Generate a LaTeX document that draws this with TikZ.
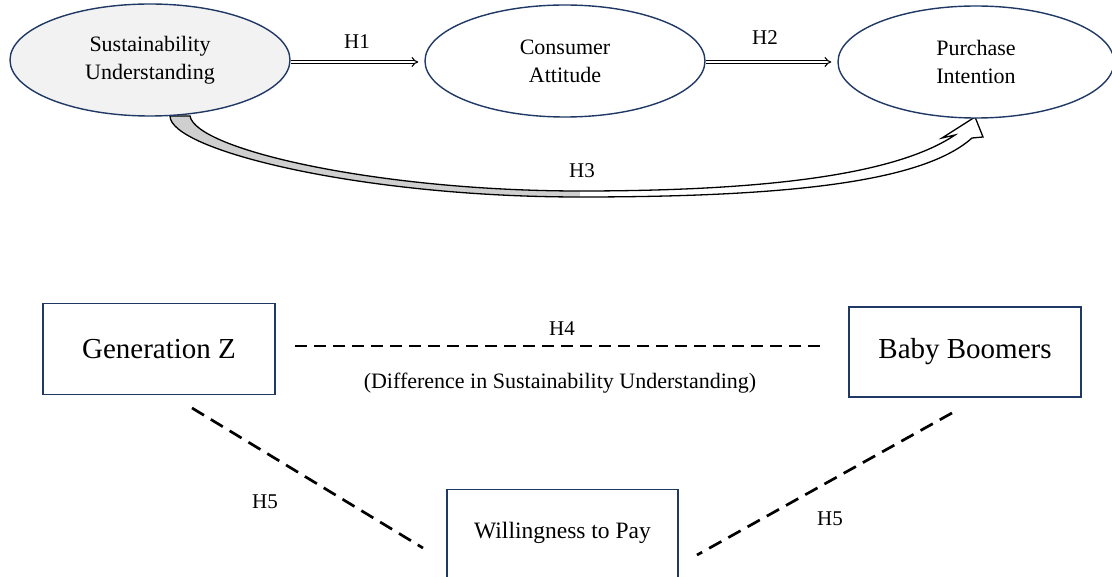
\documentclass[tikz,border=0pt]{standalone}
\usepackage{fontspec}
\setmainfont{Liberation Serif}
\usetikzlibrary{shapes.geometric,arrows.meta}
\definecolor{navy}{HTML}{1F3864}
\definecolor{lightfill}{HTML}{F2F2F2}
\definecolor{bandgray}{HTML}{CFCFCF}
\tikzset{
  construct/.style={ellipse, draw=navy, line width=1.4pt, minimum width=280pt,
    minimum height=112pt, inner sep=0pt, align=center,
    font=\fontsize{22}{28}\selectfont},
  groupbox/.style={rectangle, draw=navy, line width=1.4pt, inner sep=0pt,
    minimum width=232pt, minimum height=91pt, font=\fontsize{29}{34}\selectfont},
  hyplabel/.style={font=\fontsize{21}{24}\selectfont, inner sep=0pt},
  dblarrow/.style={double=white, double distance=2.2pt, line width=1.1pt,
    -{Implies}, shorten >=6pt},
  dashline/.style={line width=2.7pt, dash pattern=on 12pt off 7pt},
  diagdash/.style={line width=2.7pt, dash pattern=on 14pt off 8pt},
}
\begin{document}
\begin{tikzpicture}[x=1pt, y=-1pt]
\useasboundingbox (0,0) rectangle (1112,577);

% curved block arrow H3 (drawn first so the ellipse border sits over its base)
\fill[bandgray] (170,116) .. controls (170,150) and (360,197) .. (580,197)
  -- (580,191) .. controls (380,191) and (196,150) .. (190,116) -- cycle;
\fill[white] (580,197) .. controls (800,197) and (925,180) .. (972,138)
  -- (983,137) -- (975,117) -- (942,138) -- (955,135)
  .. controls (900,172) and (780,191) .. (580,191) -- cycle;
\draw[line width=1.3pt, line join=miter]
  (170,116) .. controls (170,150) and (360,197) .. (580,197)
  .. controls (800,197) and (925,180) .. (972,138)
  -- (983,137) -- (975,117) -- (942,138) -- (955,135)
  .. controls (900,172) and (780,191) .. (580,191)
  .. controls (380,191) and (196,150) .. (190,116) -- cycle;

% constructs
\node[construct, fill=lightfill] (su) at (150,60) {Sustainability\\Understanding};
\node[construct, fill=white] (ca) at (565,61) {Consumer\\Attitude};
\node[construct, fill=white, minimum width=276pt] (pi) at (976,62) {Purchase\\Intention};

% direct paths
\draw[dblarrow] (su.east |- 0,62) -- (ca.west |- 0,62);
\draw[dblarrow] (ca.east |- 0,62) -- (pi.west |- 0,62);
\node[hyplabel] (h1) at (357,42) {H1};
\node[hyplabel] (h2) at (765,38) {H2};
\node[hyplabel] (h3) at (582,171) {H3};

% generation comparison
\node[groupbox] (gz) at (159,349) {Generation Z};
\node[groupbox, minimum height=90pt] (bb) at (965,352) {Baby Boomers};
\node[rectangle, draw=navy, line width=1.4pt, inner xsep=0pt, inner ysep=0pt,
  minimum width=231pt, text height=49pt, text depth=51pt, anchor=north,
  font=\fontsize{23.5}{28}\selectfont] (wp) at (562.5,489) {Willingness to Pay};

\coordinate (h4a) at (295,346);
\coordinate (h4b) at (825,346);
\draw[dashline] (h4a) -- (h4b);
\node[hyplabel] (h4) at (562,329) {H4};
\node[font=\fontsize{22}{26}\selectfont, inner sep=0pt] (diff) at (560,383)
  {(Difference in Sustainability Understanding)};

\coordinate (h5a) at (192,408);
\coordinate (h5b) at (423,548);
\coordinate (h5c) at (952,413);
\coordinate (h5d) at (697,555);
\draw[diagdash] (h5a) -- (h5b);
\draw[diagdash] (h5c) -- (h5d);
\node[hyplabel] (h5l) at (265,502) {H5};
\node[hyplabel] (h5r) at (830,519) {H5};
\end{tikzpicture}
\end{document}
